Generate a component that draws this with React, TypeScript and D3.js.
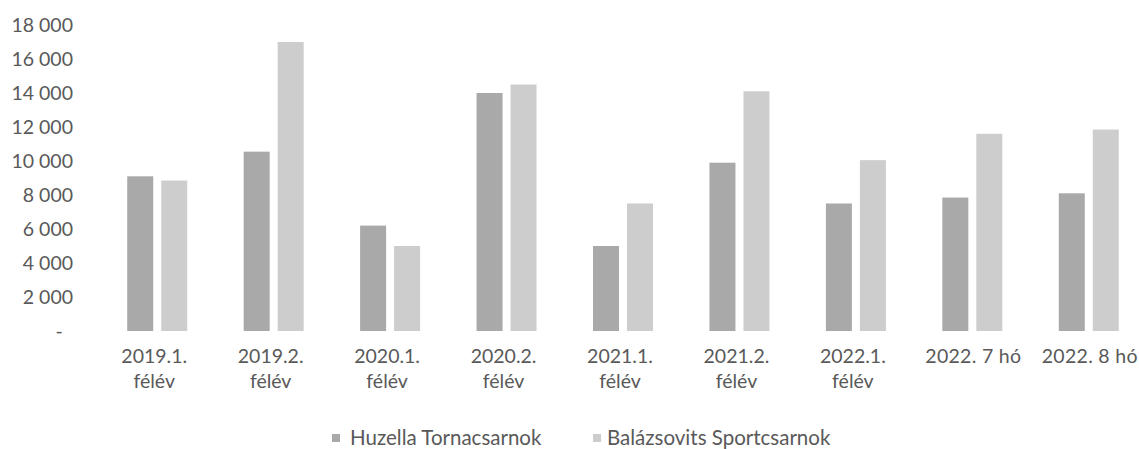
import React from "react";
import * as d3 from "d3";

const categories: string[][] = [
  ["2019.1.", "félév"],
  ["2019.2.", "félév"],
  ["2020.1.", "félév"],
  ["2020.2.", "félév"],
  ["2021.1.", "félév"],
  ["2021.2.", "félév"],
  ["2022.1.", "félév"],
  ["2022. 7 hó"],
  ["2022. 8 hó"],
];
const seriesNames = ["Huzella Tornacsarnok", "Balázsovits Sportcsarnok"];
const huzella = [9100, 10550, 6200, 14000, 5000, 9900, 7500, 7850, 8100];
const balazsovits = [8850, 17000, 5000, 14500, 7500, 14100, 10050, 11600, 11850];
const yTicks = [0, 2000, 4000, 6000, 8000, 10000, 12000, 14000, 16000, 18000];

const colors = ["#a9a9a9", "#cdcdcd"];
const textColor = "#595959";
const font = "Lato, 'Open Sans', sans-serif";

const W = 1139;
const H = 449;

export default function App() {
  const keys = categories.map((c) => c.join(" "));
  const x = d3.scaleBand<string>().domain(keys).range([99, 1147]).padding(0);
  const groupW = 60;
  const x1 = d3
    .scaleBand<string>()
    .domain(seriesNames)
    .range([0, groupW])
    .paddingInner(2 - groupW / 34)
    .paddingOuter(0);
  const y = d3.scaleLinear().domain([0, 18000]).range([331, 25]);
  const loc = d3.formatLocale({
    decimal: ",",
    thousands: " ",
    grouping: [3],
    currency: ["", ""],
  });
  const fmt = loc.format(",.0f");
  const series = [huzella, balazsovits];

  return (
    <svg
      width={W}
      height={H}
      style={{ position: "absolute", left: 0, top: 0, background: "#fff" }}
      fontFamily={font}
    >
      <rect x={0} y={0} width={W} height={H} fill="#fff" />
      {yTicks.map((t) => (
        <text
          key={t}
          x={t === 0 ? 59 : 73}
          y={y(t)}
          dy="0.35em"
          textAnchor={t === 0 ? "middle" : "end"}
          fontSize={19.5}
          fill={textColor}
        >
          {t === 0 ? "-" : fmt(t)}
        </text>
      ))}
      {keys.map((k, i) => {
        const cx = (x(k) ?? 0) + x.bandwidth() / 2;
        const shift = categories[i].length > 1 ? -3 : 1;
        return (
          <g key={k}>
            {series.map((s, si) => {
              const bx = cx - groupW / 2 + (x1(seriesNames[si]) ?? 0);
              return (
                <rect
                  key={si}
                  x={bx}
                  y={y(s[i])}
                  width={x1.bandwidth()}
                  height={y(0) - y(s[i])}
                  fill={colors[si]}
                />
              );
            })}
            {categories[i].map((line, li) => (
              <text
                key={li}
                x={cx + shift}
                y={356 + li * 25}
                dy="0.35em"
                textAnchor="middle"
                fontSize={19.5}
                letterSpacing={categories[i].length > 1 ? 0 : 0.3}
                fill={textColor}
              >
                {line}
              </text>
            ))}
          </g>
        );
      })}
      {(() => {
        const items = [
          { name: seriesNames[0], sx: 332, tx: 350, color: colors[0] },
          { name: seriesNames[1], sx: 593, tx: 607, color: colors[1] },
        ];
        return items.map((it) => (
          <g key={it.name}>
            <rect x={it.sx} y={434} width={8} height={8} fill={it.color} />
            <text
              x={it.tx}
              y={438}
              dy="0.35em"
              fontSize={20.5}
              fill={textColor}
            >
              {it.name}
            </text>
          </g>
        ));
      })()}
    </svg>
  );
}
